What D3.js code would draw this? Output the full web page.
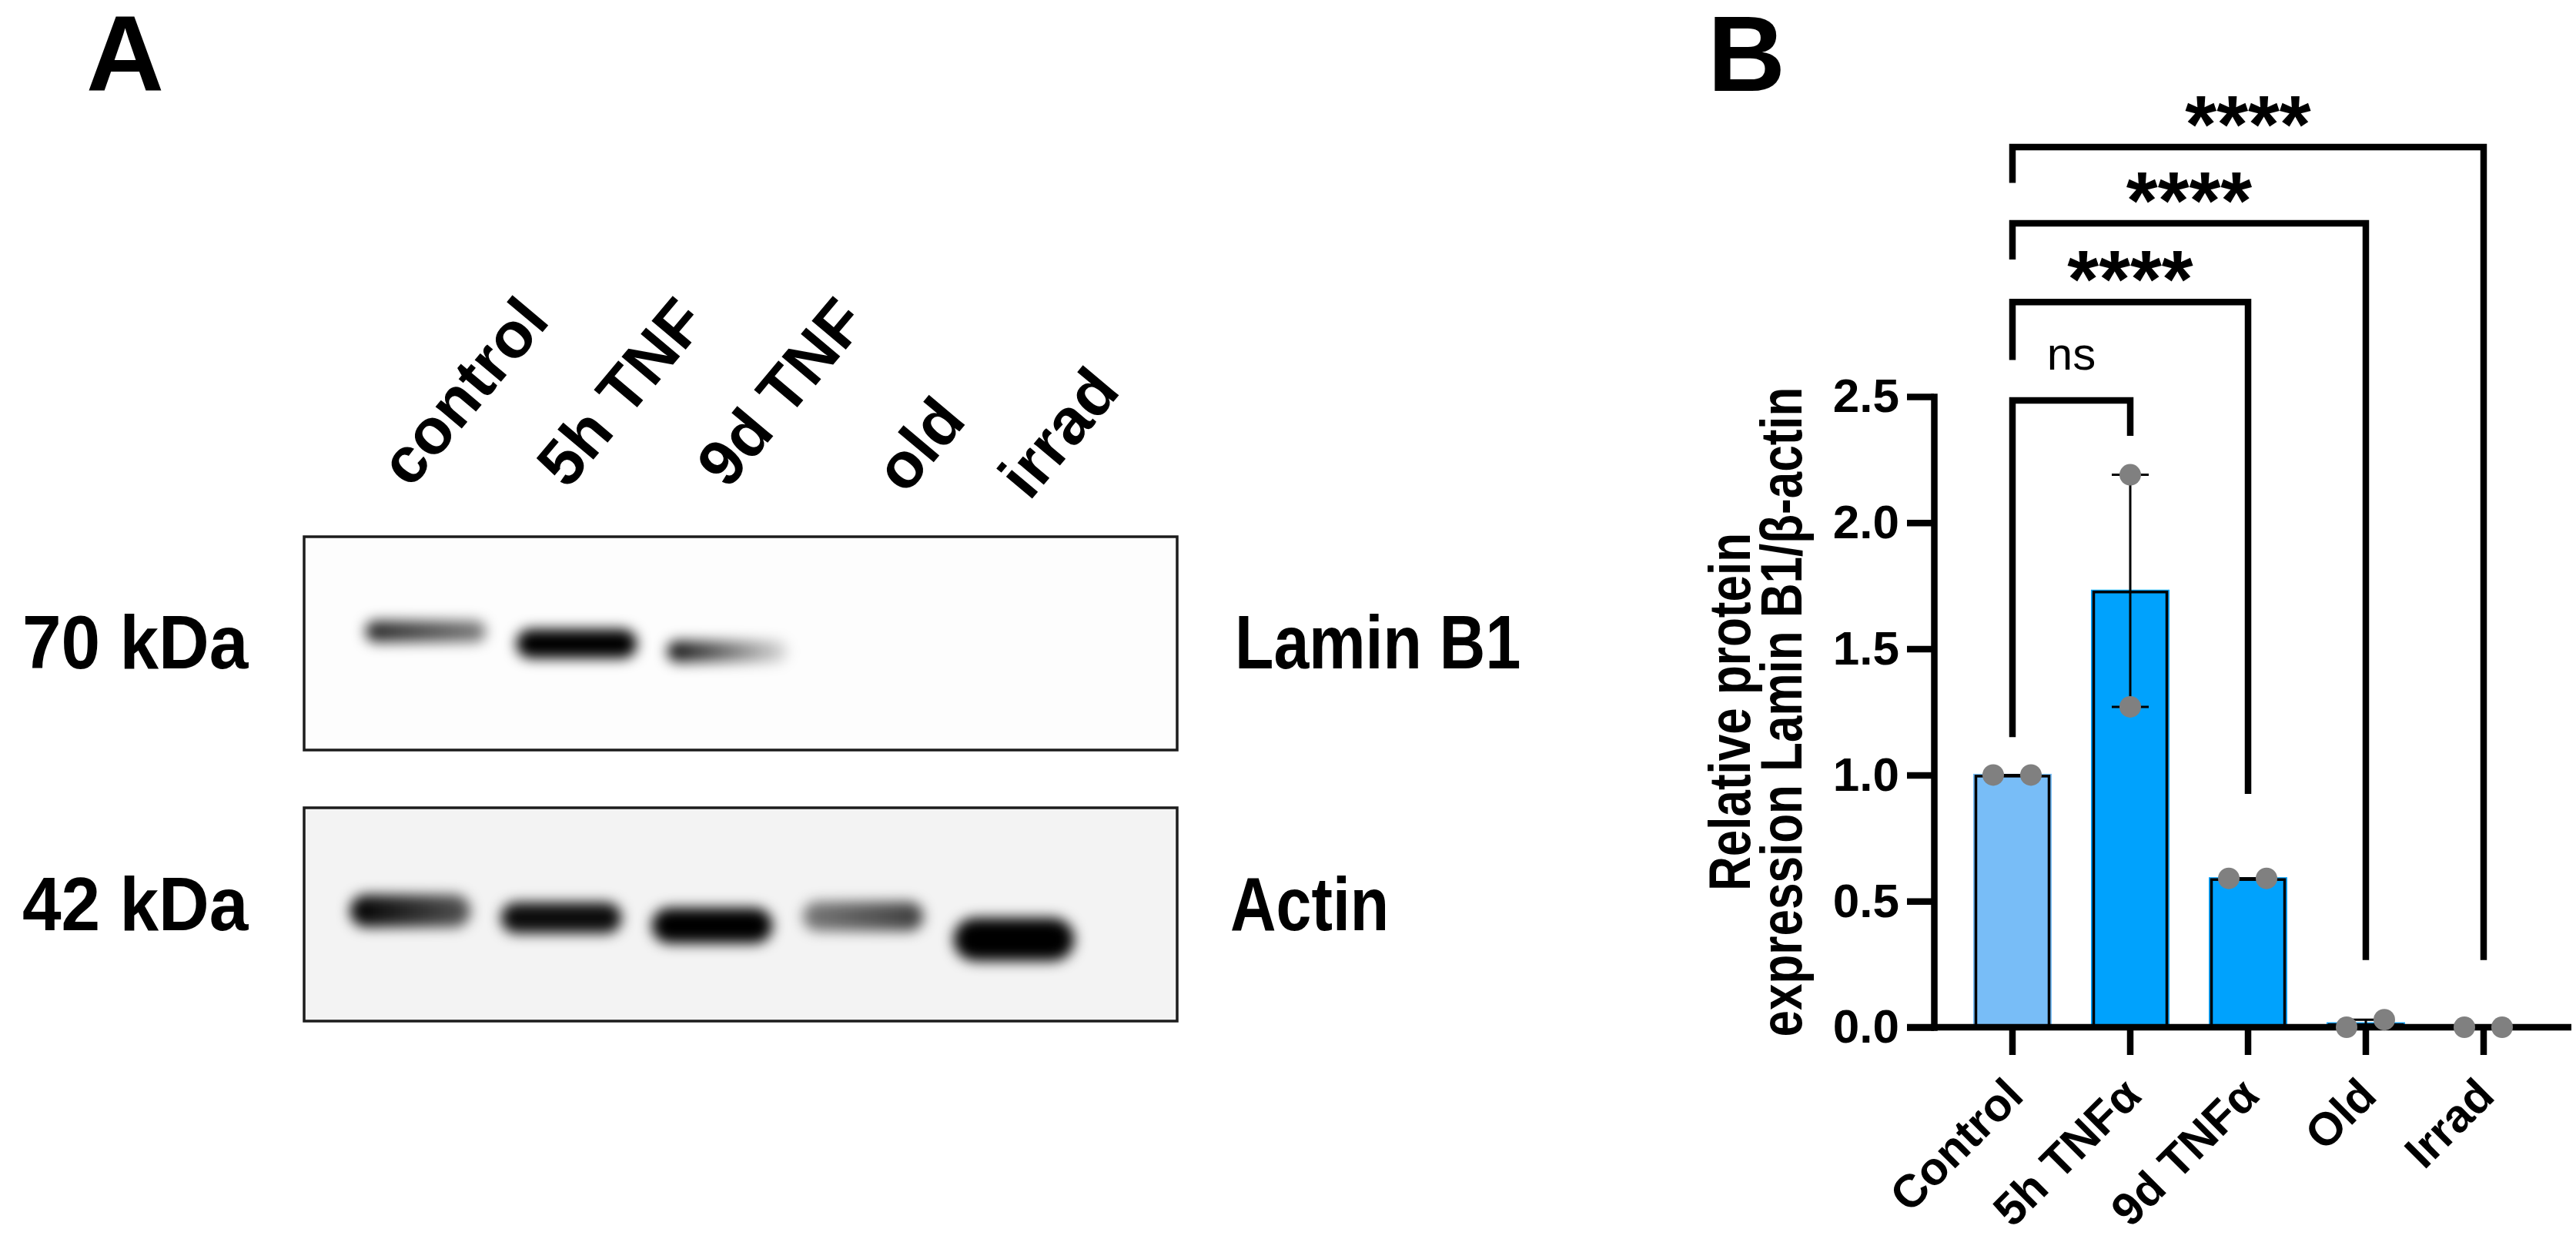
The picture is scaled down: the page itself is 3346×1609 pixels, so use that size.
<!DOCTYPE html>
<html><head><meta charset="utf-8">
<script src="https://cdn.jsdelivr.net/npm/d3@7"></script>
<style>body{margin:0;background:#fff} svg{display:block}</style>
</head><body>
<script>
// ---------------- Panel B data ----------------
const groups = ["Control", "5h TNFα", "9d TNFα", "Old", "Irrad"];
const rep1 = [1.00, 2.19, 0.59, 0.00, 0.00];
const rep2 = [1.00, 1.27, 0.59, 0.03, 0.00];
const barColors = ["#78bdf7", "#00a2fd", "#00a2fd", "#00a2fd", "#00a2fd"];
const yTicks = [0, 0.5, 1.0, 1.5, 2.0, 2.5];
const compPairs = [["Control", "5h TNFα"], ["Control", "9d TNFα"], ["Control", "Old"], ["Control", "Irrad"]];
const compLabels = ["ns", "****", "****", "****"];
const compLevel = [2.485, 2.875, 3.187, 3.489];
const compLeftEnd = [1.15, 2.645, 3.043, 3.347];
const compRightEnd = [2.344, 0.925, 0.266, 0.266];
const yTitle = ["Relative protein", "expression Lamin B1/β-actin"];

// ---------------- Panel A data ----------------
const lanes = ["control", "5h TNF", "9d TNF", "old", "irrad"];
const laminLeft = [0.85, 1.00, 0.95, 0, 0];
const laminRight = [0.50, 1.00, 0.12, 0, 0];
const actinLeft = [1.00, 0.95, 1.00, 0.50, 1.00];
const actinRight = [0.65, 0.95, 1.00, 0.75, 1.00];
const blotRows = ["Lamin B1", "Actin"];
const blotMarkers = ["70 kDa", "42 kDa"];

// ---------------- Setup ----------------
const W = 3346, H = 1609;
const FONT = "'Liberation Sans', Arial, Helvetica, sans-serif";
const svg = d3.select("body").append("svg").attr("width", W).attr("height", H)
  .style("font-family", FONT);
const defs = svg.append("defs");
const blur = defs.append("filter").attr("id", "blur")
  .attr("x", "-50%").attr("y", "-150%").attr("width", "200%").attr("height", "400%");
blur.append("feGaussianBlur").attr("stdDeviation", 8.5);

// Panel letters
svg.append("text").attr("x", 112).attr("y", 118).attr("font-size", 140).attr("font-weight", "bold").text("A");
svg.append("text").attr("x", 2218).attr("y", 118).attr("font-size", 140).attr("font-weight", "bold").text("B");

// ================= Panel A =================
const lane = d3.scaleBand().domain(lanes).range([435, 1415]).paddingInner(0.2).paddingOuter(0.1);
const laneC = l => lane(l) + lane.bandwidth() / 2;
const boxL = 395, boxR = 1529;
const boxes = [{y0: 697, y1: 974, bg: "#fdfdfd"}, {y0: 1049, y1: 1326, bg: "#f3f3f3"}];
boxes.forEach(b => {
  svg.append("rect").attr("x", boxL).attr("y", b.y0).attr("width", boxR - boxL).attr("height", b.y1 - b.y0)
    .attr("fill", b.bg).attr("stroke", "#1c1c1c").attr("stroke-width", 3.5);
});

// band layout
const laminDy = [820, 836, 846, 840, 840];
const laminH = [28, 38, 28, 0, 0];
const laminDx = 20;
const actinDy = [1183, 1192, 1202, 1190, 1220];
const actinH = [42, 40, 46, 38, 56];

function drawBands(row, left, right, cy, hh, dx) {
  lanes.forEach((l, i) => {
    if (left[i] <= 0 && right[i] <= 0) return;
    const gid = "g_" + row + i;
    const g = defs.append("linearGradient").attr("id", gid).attr("x1", 0).attr("x2", 1).attr("y1", 0).attr("y2", 0);
    g.append("stop").attr("offset", "0%").attr("stop-color", "#000").attr("stop-opacity", left[i]);
    g.append("stop").attr("offset", "100%").attr("stop-color", "#000").attr("stop-opacity", right[i]);
    const w = lane.bandwidth();
    svg.append("rect")
      .attr("x", laneC(l) + dx - w / 2).attr("y", cy[i] - hh[i] / 2)
      .attr("width", w).attr("height", hh[i]).attr("rx", hh[i] / 2)
      .attr("fill", `url(#${gid})`).attr("filter", "url(#blur)");
  });
}
drawBands("lam", laminLeft, laminRight, laminDy, laminH, laminDx);
drawBands("act", actinLeft, actinRight, actinDy, actinH, 0);

// lane labels
const labelNudgeX = [0, 8, 20, 55, 20];
const labelY = [636, 637, 637, 644, 652];
lanes.forEach((l, i) => {
  svg.append("text")
    .attr("transform", `translate(${laneC(l) + labelNudgeX[i]},${labelY[i]}) rotate(-50)`)
    .attr("font-size", 84).attr("font-weight", "bold").text(l);
});
// row labels
const rowBase = [868, 1208];
blotMarkers.forEach((t, i) => {
  svg.append("text").attr("transform", `translate(29,${rowBase[i]}) scale(1,1.09)`)
    .attr("font-size", 91).attr("font-weight", "bold").text(t);
});
const rowLabelX = [1604, 1598];
blotRows.forEach((t, i) => {
  svg.append("text").attr("transform", `translate(${rowLabelX[i]},${rowBase[i]}) scale(1,1.2)`)
    .attr("font-size", 82.5).attr("font-weight", "bold").text(t);
});

// ================= Panel B =================
const x = d3.scaleBand().domain(groups).range([2537.5, 3302.5]).paddingInner(1 / 3).paddingOuter(1 / 6);
const xc = g => x(g) + x.bandwidth() / 2;
const y = d3.scaleLinear().domain([0, 2.5]).range([1334, 515]);
const means = groups.map((g, i) => d3.mean([rep1[i], rep2[i]]));
const LW = 8.5;

// bars
const gB = svg.append("g");
groups.forEach((g, i) => {
  const top = y(means[i]), bot = y(0);
  if (bot - top < 1) return;
  gB.append("rect").attr("x", x(g)).attr("y", top - 1.5).attr("width", x.bandwidth()).attr("height", bot - top + 1.5)
    .attr("fill", barColors[i]);
  gB.append("rect").attr("x", x(g) + 3.5).attr("y", top + 1.5).attr("width", x.bandwidth() - 7).attr("height", bot - top)
    .attr("fill", barColors[i]).attr("stroke", "#000").attr("stroke-width", 3.5);
});

// error bars (range)
groups.forEach((g, i) => {
  const lo = Math.min(rep1[i], rep2[i]), hi = Math.max(rep1[i], rep2[i]);
  const cx = xc(g);
  gB.append("line").attr("x1", cx).attr("x2", cx).attr("y1", y(lo)).attr("y2", y(hi)).attr("stroke", "#000").attr("stroke-width", 3);
  [lo, hi].forEach(v => gB.append("line").attr("x1", cx - 24).attr("x2", cx + 24).attr("y1", y(v)).attr("y2", y(v))
    .attr("stroke", "#000").attr("stroke-width", 3));
});

// y axis
const yAx = svg.append("g").attr("transform", "translate(2512,0)")
  .call(d3.axisLeft(y).tickValues(yTicks).tickFormat(d3.format(".1f")).tickSize(35).tickSizeOuter(0).tickPadding(10));
yAx.select(".domain").attr("stroke-width", LW).attr("stroke-linecap", "square");
yAx.selectAll(".tick line").attr("stroke-width", LW);
yAx.selectAll("text").attr("font-size", 62).attr("font-weight", "bold").attr("font-family", FONT).attr("fill", "#000");

// x axis
const xAx = svg.append("g").attr("transform", "translate(0,1334)")
  .call(d3.axisBottom(x).tickSize(36).tickSizeOuter(0));
xAx.select(".domain").remove();
xAx.selectAll(".tick line").attr("stroke-width", LW);
xAx.selectAll("text").attr("font-size", 60).attr("font-weight", "bold").attr("font-family", FONT).attr("fill", "#000")
  .attr("text-anchor", "end").attr("y", 0).attr("dy", 0).attr("transform", "translate(17,92) rotate(-45)");
svg.append("line").attr("x1", 2477).attr("x2", 3340).attr("y1", y(0)).attr("y2", y(0))
  .attr("stroke", "#000").attr("stroke-width", LW);

// points
groups.forEach((g, i) => {
  const spread = Math.abs(rep1[i] - rep2[i]) < 0.1;
  [rep1[i], rep2[i]].forEach((v, k) => {
    const off = spread ? (k === 0 ? -25 : 24) : 0;
    svg.append("circle").attr("cx", xc(g) + off).attr("cy", y(v)).attr("r", 14).attr("fill", "#808080");
  });
});

// significance brackets
compPairs.forEach((p, i) => {
  const xa = xc(p[0]), xb = xc(p[1]), yl = y(compLevel[i]);
  svg.append("path")
    .attr("d", `M${xa},${y(compLeftEnd[i])}V${yl}H${xb}V${y(compRightEnd[i])}`)
    .attr("fill", "none").attr("stroke", "#000").attr("stroke-width", LW).attr("stroke-linejoin", "miter");
  const isNs = compLabels[i] === "ns";
  svg.append("text").attr("x", (xa + xb) / 2).attr("y", isNs ? yl - 40 : yl + 7)
    .attr("text-anchor", "middle")
    .attr("font-size", isNs ? 60 : 105).attr("font-weight", isNs ? "normal" : "bold")
    .text(compLabels[i]);
});

// y title
const yMid = (y(0) + y(2.5)) / 2;
const titleX = [2273, 2340];
yTitle.forEach((t, i) => {
  svg.append("text").attr("transform", `translate(${titleX[i]},${yMid}) rotate(-90) scale(1,1.22)`)
    .attr("text-anchor", "middle").attr("font-size", 62).attr("font-weight", "bold").text(t);
});
</script>
</body></html>
